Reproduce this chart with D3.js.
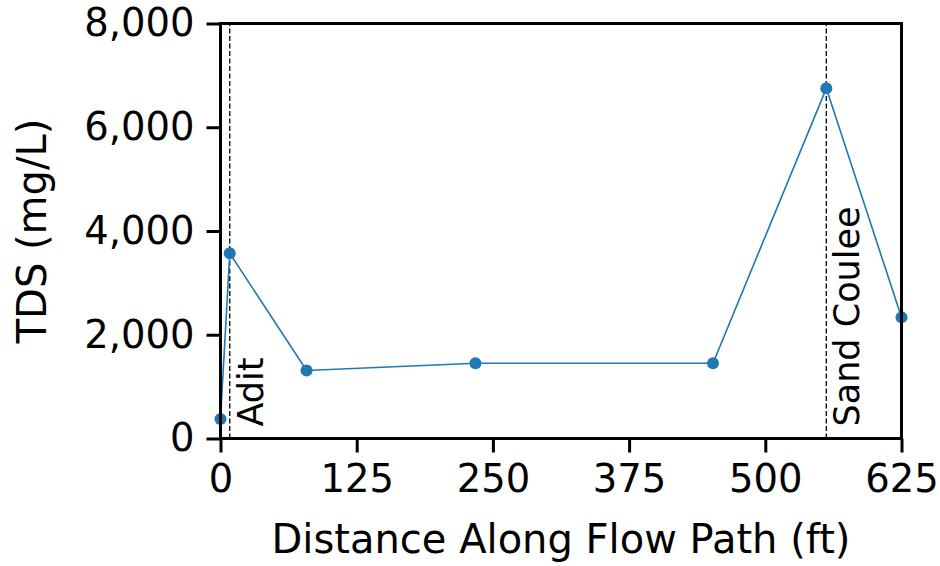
<!DOCTYPE html>
<html>
<head>
<meta charset="utf-8">
<script src="https://cdn.jsdelivr.net/npm/d3@7"></script>
<style>
  body { margin: 0; background: #fff; }
  svg { font-family: "DejaVu Sans", sans-serif; }
</style>
</head>
<body>
<div id="chart"></div>
<script>
// Données
const distances = [0, 8.5, 79, 234, 452, 556, 625];
const tds = [375, 3570, 1310, 1450, 1450, 6750, 2335];
const xTicks = [0, 125, 250, 375, 500, 625];
const yTicks = [0, 2000, 4000, 6000, 8000];
const markerNames = ['Adit', 'Sand Coulee'];
const markerDistances = [8.5, 556];

const width = 940, height = 566;
const margin = { left: 220.5, right: 38.5, top: 23.5, bottom: 127.5 };

const svg = d3.select('#chart')
    .append('svg')
    .attr('width', width)
    .attr('height', height);

const x = d3.scaleLinear()
    .domain([0, 625])
    .range([margin.left, width - margin.right]);

const y = d3.scaleLinear()
    .domain([0, 8000])
    .range([height - margin.bottom, margin.top]);

const fmt = d3.format(',');

// Axe X
const xAxis = svg.append('g')
    .attr('transform', `translate(0,${height - margin.bottom})`)
    .call(d3.axisBottom(x).tickValues(xTicks).tickFormat(d => d)
        .tickSize(14).tickPadding(12));

// Axe Y
const yAxis = svg.append('g')
    .attr('transform', `translate(${margin.left},0)`)
    .call(d3.axisLeft(y).tickValues(yTicks).tickFormat(fmt)
        .tickSize(14).tickPadding(12));

[xAxis, yAxis].forEach(ax => {
    ax.select('.domain').remove();
    ax.selectAll('line').attr('stroke', '#000').attr('stroke-width', 3);
    ax.selectAll('text')
        .attr('fill', '#000')
        .attr('font-size', '38.5px')
        .attr('font-family', '"DejaVu Sans", sans-serif');
});

// Lignes verticales pointillées
svg.selectAll('.marker-line')
    .data(markerDistances)
    .enter()
    .append('line')
    .attr('class', 'marker-line')
    .attr('x1', d => x(d))
    .attr('x2', d => x(d))
    .attr('y1', y(0))
    .attr('y2', y(8000))
    .attr('stroke', '#000')
    .attr('stroke-width', 1.3)
    .attr('stroke-dasharray', '5,2.5');

// Étiquettes des lignes
svg.selectAll('.marker-label')
    .data(markerNames)
    .enter()
    .append('text')
    .attr('class', 'marker-label')
    .attr('transform', (d, i) => `translate(${x(markerDistances[i]) + 33},${y(0) - 12}) rotate(-90)`)
    .attr('font-size', '35px')
    .attr('fill', '#000')
    .text(d => d);

// Ligne des données
const pts = distances.map((d, i) => [d, tds[i]]);
svg.append('path')
    .datum(pts)
    .attr('fill', 'none')
    .attr('stroke', '#1f77b4')
    .attr('stroke-width', 1.6)
    .attr('d', d3.line().x(d => x(d[0])).y(d => y(d[1])));

svg.selectAll('.pt')
    .data(pts)
    .enter()
    .append('circle')
    .attr('class', 'pt')
    .attr('cx', d => x(d[0]))
    .attr('cy', d => y(d[1]))
    .attr('r', 6)
    .attr('fill', '#1f77b4');

// Cadre
svg.append('rect')
    .attr('x', margin.left)
    .attr('y', margin.top)
    .attr('width', width - margin.left - margin.right)
    .attr('height', height - margin.top - margin.bottom)
    .attr('fill', 'none')
    .attr('stroke', '#000')
    .attr('stroke-width', 3);

// Titres des axes
svg.append('text')
    .attr('x', (margin.left + width - margin.right) / 2)
    .attr('y', 553)
    .attr('text-anchor', 'middle')
    .attr('font-size', '40px')
    .attr('fill', '#000')
    .text('Distance Along Flow Path (ft)');

svg.append('text')
    .attr('transform', `translate(46,${(margin.top + height - margin.bottom) / 2}) rotate(-90)`)
    .attr('text-anchor', 'middle')
    .attr('font-size', '40px')
    .attr('fill', '#000')
    .text('TDS (mg/L)');
</script>
</body>
</html>
